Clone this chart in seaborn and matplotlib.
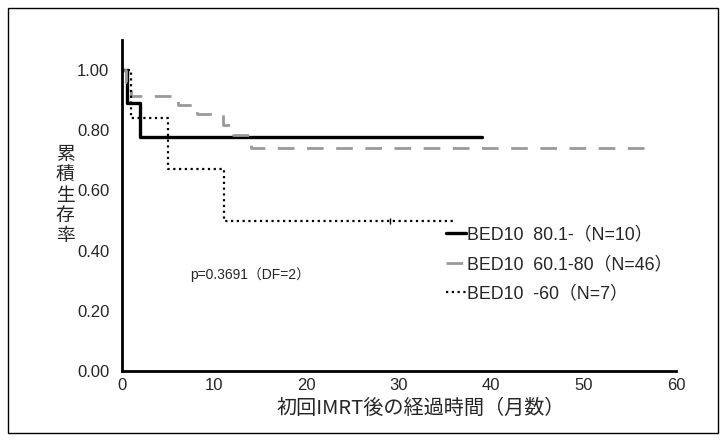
import matplotlib
matplotlib.use("Agg")
import matplotlib.pyplot as plt
import seaborn as sns
import pandas as pd
from matplotlib.patches import Rectangle

sns.set_style("white")
plt.rcParams['font.family'] = ['Liberation Sans', 'Noto Sans CJK JP', 'DejaVu Sans']

# Kaplan-Meier step points (time in months, cumulative survival)
t_high = [0, 0.5, 2.0, 39.0]
s_high = [1.0, 0.889, 0.778, 0.778]
t_mid = [0, 0.4, 1.0, 6.1, 8.1, 10.9, 12.0, 14.0, 57.0]
s_mid = [1.0, 0.96, 0.913, 0.883, 0.853, 0.818, 0.783, 0.74, 0.74]
t_low = [0, 1.0, 5.0, 11.0, 36.0]
s_low = [1.0, 0.84, 0.67, 0.50, 0.50]
censor_low_t = [29.0]
censor_low_s = [0.50]

labels = ["BED10  80.1-（N=10）", "BED10  60.1-80（N=46）", "BED10  -60（N=7）"]
xticks = [0, 10, 20, 30, 40, 50, 60]
yticks = [0.0, 0.2, 0.4, 0.6, 0.8, 1.0]
xlabel = "初回IMRT後の経過時間（月数）"
ylabel = "累\n積\n生\n存\n率"
ptext = "p=0.3691（DF=2）"

fig = plt.figure(figsize=(7.26, 4.41), dpi=100)
ax = fig.add_axes([122/726, 1-371/441, (676-122)/726, (371-40)/441])

fig.patches.append(Rectangle((8/726, 8/441), 710/726, 425/441, transform=fig.transFigure,
                             fill=False, edgecolor='black', linewidth=1.0))

sns.lineplot(x=t_high, y=s_high, ax=ax, drawstyle='steps-post', sort=False, estimator=None,
             color='black', linewidth=2.4, label=labels[0])
sns.lineplot(x=t_mid, y=s_mid, ax=ax, drawstyle='steps-post', sort=False, estimator=None,
             color='#999999', linewidth=2.0, label=labels[1])
ax.lines[-1].set_dashes([6, 4.5])
sns.lineplot(x=t_low, y=s_low, ax=ax, drawstyle='steps-post', sort=False, estimator=None,
             color='black', linewidth=1.6, label=labels[2])
ax.lines[-1].set_dashes([1, 1.6])
ax.plot(censor_low_t, censor_low_s, marker='|', color='black', markersize=4, linestyle='none')

ax.set_xlim(0, 60)
ax.set_ylim(0, 1.1)
ax.set_xticks(xticks)
ax.set_yticks(yticks)
ax.set_yticklabels([f"{v:.2f}" for v in yticks])
ax.tick_params(axis='x', direction='in', length=4, width=1.5, labelsize=12, pad=5)
ax.tick_params(axis='y', direction='out', length=5, width=1.5, labelsize=12, pad=4)
for s in ['top', 'right']:
    ax.spines[s].set_visible(False)
for s in ['left', 'bottom']:
    ax.spines[s].set_linewidth(2)
    ax.spines[s].set_color('black')
ax.set_xlabel("")
ax.set_ylabel("")
fig.text(421/726, 1-408/441, xlabel, fontsize=14.5, family=['Noto Sans CJK JP'],
         ha='center', va='center')
fig.text(65/726, 1-195/441, ylabel, fontsize=13.5, family=['Noto Sans CJK JP'],
         ha='center', va='center', linespacing=0.95)
ax.text((190-122)/554, (371-275)/331, ptext, transform=ax.transAxes, fontsize=10,
        family=['Liberation Sans', 'Noto Sans CJK JP'], va='center')

leg = ax.legend(loc='upper left', bbox_to_anchor=((446-122)/554, (371-226)/331), frameon=False,
                handlelength=1.1, handletextpad=0.1, labelspacing=0.72, borderpad=0,
                borderaxespad=0,
                prop={'family': ['Liberation Sans', 'Noto Sans CJK JP'], 'size': 12.8})

fig.savefig("out.png", dpi=100)
